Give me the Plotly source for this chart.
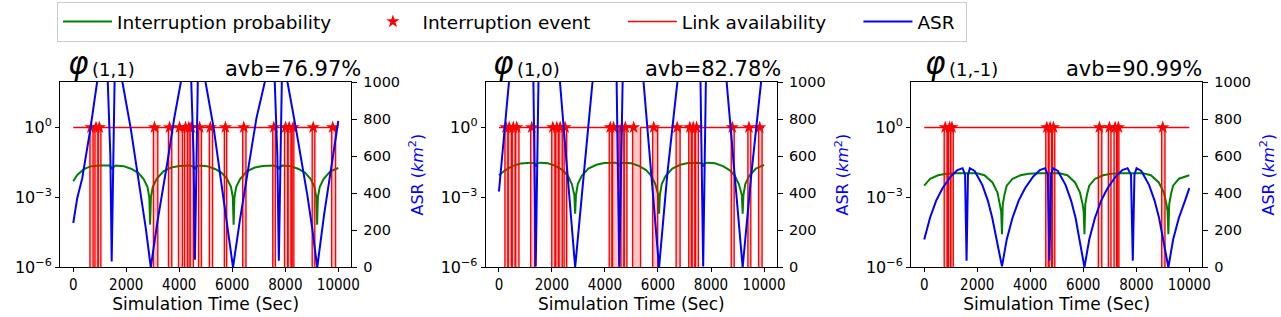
import plotly.graph_objects as go

# ---------------- data ----------------
x_ticks = [0, 2000, 4000, 6000, 8000, 10000]
x_ticktext = ["0", "2000", "4000", "6000", "8000", "10000"]
asr_ticks = [0, 200, 400, 600, 800, 1000]
prob_tickvals = [1e-6, 1e-3, 1]
prob_ticktext = ["10<sup>\u22126</sup>", "10<sup>\u22123</sup>", "10<sup>0</sup>"]
panel_idx = ["(1,1)", "(1,0)", "(1,-1)"]
avb_texts = ["avb=76.97%", "avb=82.78%", "avb=90.99%"]
legend_names = ["Interruption probability", "Interruption event", "Link availability", "ASR"]
t_end = 10000

# Panel 1 : ASR (km^2)
p1_asr_t = [0, 150, 340, 650, 900, 1100, 1300, 1400, 1450, 1500, 1560, 1700, 1855, 2168, 2547, 2736, 2925,
            3178, 3556, 3809, 4060, 4250, 4450, 4540, 4590, 4640, 4700, 4850, 4990, 5300, 5650, 5840, 6028,
            6280, 6660, 6910, 7227, 7400, 7600, 7700, 7756, 7810, 7870, 8000, 8082, 8400, 8830, 9015, 9205,
            9460, 9750, 10000]
p1_asr = [239, 373, 481, 750, 1000, 1080, 1010, 600, 32, 600, 1010, 1080, 1000, 750, 391, 212, 0,
          248, 571, 804, 1000, 1080, 1010, 600, 41, 600, 1010, 1080, 1000, 750, 391, 212, 0,
          248, 571, 804, 1000, 1080, 1010, 600, 35, 600, 1010, 1080, 1000, 750, 391, 212, 0,
          280, 560, 790]
# Panel 1 : interruption probability (log10)
p1_prob_t = [0, 150, 400, 650, 1000, 1350, 1440, 1475, 1510, 1600, 1900, 2200, 2450, 2650, 2800, 2870, 2900,
             2930, 3000, 3150, 3400, 3700, 4000, 4400, 4560, 4590, 4620, 4750, 5050, 5350, 5600, 5800, 5950,
             6020, 6050, 6080, 6150, 6300, 6550, 6850, 7150, 7550, 7720, 7756, 7790, 7900, 8200, 8500, 8750,
             8950, 9100, 9170, 9200, 9230, 9300, 9450, 9700, 10000]
p1_prob_log = [-2.31, -2.04, -1.79, -1.67, -1.63, -1.63, -1.70, -1.80, -1.70, -1.63, -1.66, -1.78, -1.95,
               -2.20, -2.55, -3.0, -4.17, -3.0, -2.55, -2.20, -1.88, -1.72, -1.65, -1.63, -1.70, -1.80,
               -1.70, -1.63, -1.66, -1.78, -1.95, -2.20, -2.55, -3.0, -4.17, -3.0, -2.55, -2.20, -1.88,
               -1.72, -1.65, -1.63, -1.70, -1.80, -1.70, -1.63, -1.66, -1.78, -1.95, -2.20, -2.55, -3.0,
               -4.17, -3.0, -2.55, -2.20, -1.88, -1.74]
p1_events = [669, 858, 984, 3065, 3632, 4010, 4237, 4362, 4452, 4767, 5172, 5740, 6432, 7567, 8010, 8146,
             8297, 9054, 9788]
p1_outage = [120, 110, 100, 165, 125, 150, 110, 80, 120, 110, 125, 90, 125, 100, 120, 110, 65, 100, 150]

# Panel 2
p2_asr_t = [0, 378, 700, 1000, 1250, 1300, 1388, 1490, 1550, 1800, 2100, 2300, 2590, 2875, 3200, 3530, 3850,
            4150, 4400, 4440, 4540, 4666, 4720, 5000, 5250, 5460, 5750, 6041, 6350, 6670, 7000, 7300, 7560,
            7604, 7705, 7806, 7860, 8150, 8400, 8590, 8890, 9194, 9520, 9849, 10000]
p2_asr = [409, 1000, 1350, 1450, 1200, 1000, 5, 1000, 1200, 1450, 1350, 1000, 500, 0, 500, 1000, 1350,
          1450, 1200, 1000, 5, 1000, 1200, 1450, 1350, 1000, 500, 0, 500, 1000, 1350, 1450, 1200,
          1000, 5, 1000, 1200, 1450, 1350, 1000, 500, 0, 500, 1000, 1150]
p2_prob_t = [0, 220, 520, 820, 1200, 1350, 1388, 1420, 1550, 1850, 2150, 2400, 2600, 2750, 2845, 2875, 2905,
             2975, 3125, 3375, 3675, 3975, 4375, 4500, 4540, 4580, 4700, 5000, 5300, 5550, 5750, 5900, 6011,
             6041, 6071, 6141, 6291, 6541, 6841, 7141, 7500, 7665, 7705, 7745, 7870, 8150, 8450, 8700, 8900,
             9050, 9164, 9194, 9224, 9294, 9444, 9694, 10000]
p2_prob_log = [-2.05, -1.85, -1.65, -1.55, -1.51, -1.55, -1.68, -1.55, -1.51, -1.54, -1.66, -1.83, -2.08,
               -2.43, -2.9, -3.7, -2.9, -2.43, -2.08, -1.76, -1.60, -1.53, -1.51, -1.55, -1.68, -1.55,
               -1.51, -1.54, -1.66, -1.83, -2.08, -2.43, -2.9, -3.7, -2.9, -2.43, -2.08, -1.76, -1.60,
               -1.53, -1.51, -1.55, -1.68, -1.55, -1.51, -1.54, -1.66, -1.83, -2.08, -2.43, -2.9, -3.7,
               -2.9, -2.43, -2.08, -1.76, -1.61]
p2_events = [265, 390, 541, 670, 1237, 2032, 2183, 2308, 2497, 4200, 4325, 4642, 4767, 5082, 5839, 6724,
             7200, 7329, 7454, 8804, 9432, 9837]
p2_outage = [110, 120, 110, 125, 150, 120, 100, 120, 100, 100, 250, 110, 100, 300, 190, 150, 100, 100, 110,
             110, 110, 130]

# Panel 3
p3_asr_t = [0, 215, 450, 689, 1000, 1250, 1445, 1540, 1596, 1650, 1722, 1900, 2190, 2400, 2567, 2763, 2932,
            3112, 3327, 3562, 3802, 4112, 4362, 4557, 4660, 4723, 4786, 4860, 5040, 5330, 5540, 5710, 5880,
            6044, 6224, 6439, 6674, 6914, 7224, 7474, 7669, 7800, 7868, 7930, 8010, 8190, 8480, 8690, 8860,
            9040, 9210, 9390, 9605, 9840, 10000]
p3_asr = [150, 266, 360, 427, 490, 525, 535, 500, 36, 500, 535, 520, 445, 360, 266, 122, 5,
          150, 266, 360, 427, 490, 525, 535, 500, 36, 500, 535, 520, 445, 360, 266, 122,
          0, 150, 266, 360, 427, 490, 525, 535, 500, 36, 500, 535, 520, 445, 360, 266,
          122, 0, 150, 266, 360, 427]
p3_prob_t = [0, 220, 520, 820, 1220, 1596, 2000, 2270, 2575, 2763, 2862, 2902, 2932, 2962, 3032, 3112, 3332,
             3632, 3932, 4332, 5100, 5400, 5690, 5875, 5974, 6014, 6044, 6074, 6144, 6224, 6444, 6744, 7044,
             7444, 8250, 8550, 8850, 9040, 9140, 9180, 9210, 9240, 9310, 9390, 9610, 10000]
p3_prob_log = [-2.5, -2.2, -2.05, -1.99, -1.97, -1.97, -1.97, -2.05, -2.36, -2.79, -3.3, -3.6, -4.58,
               -3.3, -2.85, -2.5, -2.2, -2.05, -1.99, -1.97, -1.97, -2.05, -2.36, -2.79, -3.3, -3.6,
               -4.58, -3.3, -2.85, -2.5, -2.2, -2.05, -1.99, -1.97, -1.97, -2.05, -2.36, -2.79, -3.3,
               -3.6, -4.58, -3.3, -2.85, -2.5, -2.2, -2.05]
p3_events = [792, 955, 1044, 4624, 4749, 4875, 6608, 6985, 7200, 7325, 8997]
p3_outage = [110, 80, 90, 100, 100, 90, 130, 100, 100, 60, 125]

panels = [
    (p1_asr_t, p1_asr, p1_prob_t, p1_prob_log, p1_events, p1_outage),
    (p2_asr_t, p2_asr, p2_prob_t, p2_prob_log, p2_events, p2_outage),
    (p3_asr_t, p3_asr, p3_prob_t, p3_prob_log, p3_events, p3_outage),
]

# ---------------- layout geometry (pixels) ----------------
W, H = 1281, 317
plot_left = [60, 485.7, 911]
plot_w = 291.3
plot_top, plot_bot = 82, 267.3
phi_x = [66, 491, 923]
idx_x = [90, 515, 947]
avb_x = [223, 643, 1064]

FLOOR = 1e-7   # drawing floor for "0" availability on the log axis
LOG_RANGE = [-6, 1.95]
X_RANGE = [-500, 10490]
PAD = "\u00a0" * 4 + "\u2009"   # spacing between legend entries

fig = go.Figure()
layout = dict(width=W, height=H, margin=dict(l=0, r=0, t=0, b=0, autoexpand=False), autosize=False,
              plot_bgcolor="white", paper_bgcolor="white",
              font=dict(family="DejaVu Sans", color="black"))
annotations = []

for i, (at, av, pt, plog, ev, dur) in enumerate(panels):
    n = i + 1
    xa = "x" if n == 1 else f"x{n}"
    ya_l = "y" if n == 1 else f"y{2 * n - 1}"
    ya_r = f"y{2 * n}"
    show = (i == 0)

    # link availability (1 = up, 0 = down) as a step path
    lx, ly = [0], [1]
    fx, fy = [], []
    for e, d in zip(ev, dur):
        s, f = e - 40, e - 40 + d
        lx += [s, s, f, f]
        ly += [1, 0, 0, 1]
        fx += [s, s, f, f, None]
        fy += [FLOOR, 1, 1, FLOOR, None]
    lx.append(t_end)
    ly.append(1)
    ly_plot = [v if v > 0 else FLOOR for v in ly]

    prob = [10 ** v for v in plog]

    fig.add_trace(go.Scatter(x=pt, y=prob, mode="lines", line=dict(color="green", width=2),
                             name=legend_names[0] + PAD, showlegend=show, legendrank=1,
                             xaxis=xa, yaxis=ya_l))
    fig.add_trace(go.Scatter(x=fx, y=fy, mode="lines", fill="toself", fillcolor="rgba(255,0,0,0.22)",
                             line=dict(width=0, color="rgba(255,0,0,0)"), showlegend=False,
                             hoverinfo="skip", xaxis=xa, yaxis=ya_l))
    fig.add_trace(go.Scatter(x=ev, y=[1] * len(ev), mode="markers",
                             marker=dict(symbol="star", color="red", size=10, line=dict(width=0)),
                             name=legend_names[1] + PAD, showlegend=show, legendrank=2,
                             xaxis=xa, yaxis=ya_l))
    fig.add_trace(go.Scatter(x=lx, y=ly_plot, mode="lines", line=dict(color="#ff0000", width=1.4),
                             name=legend_names[2] + PAD, showlegend=show, legendrank=3,
                             xaxis=xa, yaxis=ya_l))
    fig.add_trace(go.Scatter(x=at, y=av, mode="lines", line=dict(color="blue", width=2),
                             name=legend_names[3] + "\u00a0", showlegend=show, legendrank=4,
                             xaxis=xa, yaxis=ya_r))

    dom_x = [plot_left[i] / W, (plot_left[i] + plot_w) / W]
    dom_y = [1 - plot_bot / H, 1 - plot_top / H]
    xkey = "xaxis" if n == 1 else f"xaxis{n}"
    ylkey = "yaxis" if n == 1 else f"yaxis{2 * n - 1}"
    yrkey = f"yaxis{2 * n}"
    layout[xkey] = dict(domain=dom_x, range=X_RANGE, anchor=ya_l, tickvals=x_ticks, ticktext=x_ticktext,
                        ticks="outside", ticklen=4, tickcolor="black", showline=True, mirror=True,
                        linecolor="black", linewidth=1, showgrid=False, zeroline=False,
                        tickfont=dict(family="Liberation Sans Narrow, DejaVu Sans Condensed, DejaVu Sans",
                                      size=15),
                        title=dict(text="Simulation Time (Sec)", font=dict(size=17), standoff=4))
    layout[ylkey] = dict(domain=dom_y, type="log", range=LOG_RANGE, anchor=xa,
                         tickvals=prob_tickvals, ticktext=prob_ticktext, ticks="outside", ticklen=4,
                         tickcolor="black", showline=True, linecolor="black", linewidth=1,
                         showgrid=False, zeroline=False, tickfont=dict(size=16))
    layout[yrkey] = dict(overlaying=ya_l, side="right", anchor=xa, range=[0, 1000], tickvals=asr_ticks,
                         ticks="outside", ticklen=5, tickcolor="black", showline=True,
                         linecolor="black", linewidth=1, showgrid=False, zeroline=False,
                         tickfont=dict(size=14.5), ticklabelstandoff=3,
                         title=dict(text="ASR (<i>km</i><sup>2</sup>)", font=dict(size=16, color="blue"),
                                    standoff=12))

    annotations.append(dict(text="<i>\u03c6</i>", x=phi_x[i] / W, y=1 - 63 / H, xref="paper", yref="paper",
                            xanchor="left", yanchor="middle", showarrow=False, font=dict(size=31)))
    annotations.append(dict(text=panel_idx[i], x=idx_x[i] / W, y=1 - 70 / H, xref="paper", yref="paper",
                            xanchor="left", yanchor="middle", showarrow=False, font=dict(size=18)))
    annotations.append(dict(text=avb_texts[i], x=avb_x[i] / W, y=1 - 69 / H, xref="paper", yref="paper",
                            xanchor="left", yanchor="middle", showarrow=False, font=dict(size=21)))

layout["annotations"] = annotations
layout["legend"] = dict(orientation="h", x=57 / W, y=1 - 2 / H, xanchor="left", yanchor="top",
                        bordercolor="#cccccc", borderwidth=1, bgcolor="white", itemwidth=49,
                        font=dict(size=18.5), traceorder="normal")
layout["showlegend"] = True
fig.update_layout(**layout)
fig.write_html("out.html", config={"displayModeBar": False},
               post_script="document.body.style.margin='0';document.body.style.overflow='hidden';")
